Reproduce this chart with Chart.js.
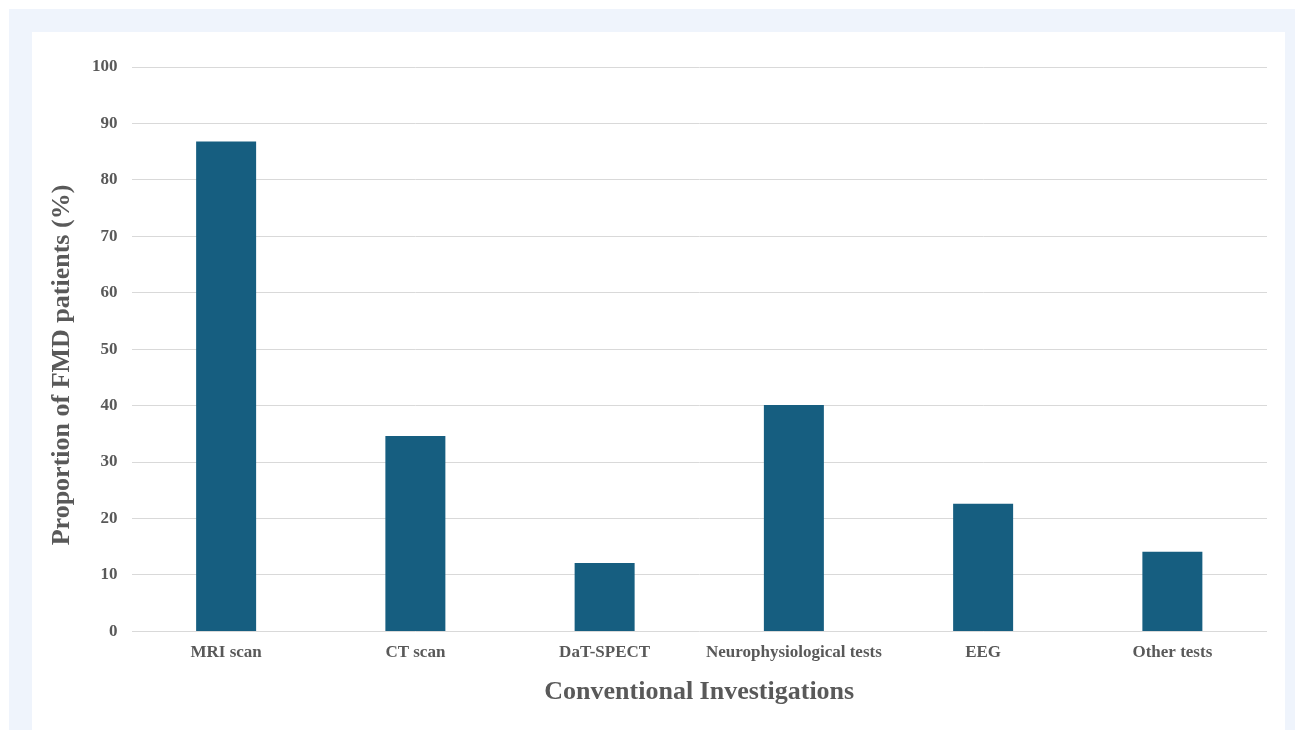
<!DOCTYPE html>
<html>
<head>
<meta charset="utf-8">
<script src="https://cdn.jsdelivr.net/npm/chart.js@4"></script>
<style>
  html, body { margin: 0; padding: 0; background: #ffffff; }
  #outer { position: absolute; left: 9px; top: 9px; width: 1286px; height: 721px; background: #eff4fc; }
  #panel { position: absolute; left: 32px; top: 32px; width: 1253px; height: 698px; background: #ffffff; }
  #chartBox { position: absolute; left: 0; top: 0; width: 1253px; height: 698px; }
</style>
</head>
<body>
<div id="outer"></div>
<div id="panel"><div id="chartBox"><canvas id="investChart"></canvas></div></div>
<script>
const categories = ['MRI scan', 'CT scan', 'DaT-SPECT', 'Neurophysiological tests', 'EEG', 'Other tests'];
const proportions = [86.8, 34.6, 12.1, 40.1, 22.6, 14.1];
const yTicks = [0, 10, 20, 30, 40, 50, 60, 70, 80, 90, 100];
const yTitle = 'Proportion of FMD patients (%)';
const xTitle = 'Conventional Investigations';

const textColor = '#595959';
const serif = "'Liberation Serif', 'Times New Roman', serif";

const chartCanvas = document.getElementById('investChart');

// y title sits a bit below the plot's middle in the original, so draw it by hand
const yTitlePlugin = {
  id: 'yTitle',
  afterDraw(chart) {
    const ctx = chart.ctx;
    ctx.save();
    ctx.translate(30, 333);
    ctx.rotate(-Math.PI / 2);
    ctx.fillStyle = textColor;
    ctx.font = `bold 26px ${serif}`;
    ctx.textAlign = 'center';
    ctx.textBaseline = 'middle';
    ctx.fillText(yTitle, 0, 0);
    ctx.restore();
  },
};

new Chart(chartCanvas.getContext('2d'), {
  type: 'bar',
  data: {
    labels: categories,
    datasets: [
      {
        label: yTitle,
        data: proportions,
        backgroundColor: '#165e80',
        borderWidth: 0,
        barPercentage: 0.317,
        categoryPercentage: 1,
      },
    ],
  },
  plugins: [yTitlePlugin],
  options: {
    responsive: true,
    maintainAspectRatio: false,
    animation: false,
    layout: { padding: { top: 35, right: 18, bottom: 18, left: 46 } },
    plugins: {
      legend: { display: false },
      tooltip: { enabled: false },
    },
    scales: {
      x: {
        grid: { display: false },
        border: { display: false },
        ticks: {
          color: textColor,
          font: { family: serif, size: 17, weight: 'bold' },
          padding: 3,
        },
        title: {
          display: true,
          text: xTitle,
          color: textColor,
          font: { family: serif, size: 26, weight: 'bold' },
          padding: { top: 11 },
        },
      },
      y: {
        min: 0,
        max: 100,
        afterBuildTicks: (axis) => {
          axis.ticks = yTicks.map((v) => ({ value: v }));
        },
        grid: { color: '#d9d9d9', lineWidth: 1, drawTicks: false },
        border: { display: false },
        ticks: {
          color: textColor,
          font: { family: serif, size: 17, weight: 'bold' },
          padding: 14,
        },
      },
    },
  },
});
</script>
</body>
</html>
